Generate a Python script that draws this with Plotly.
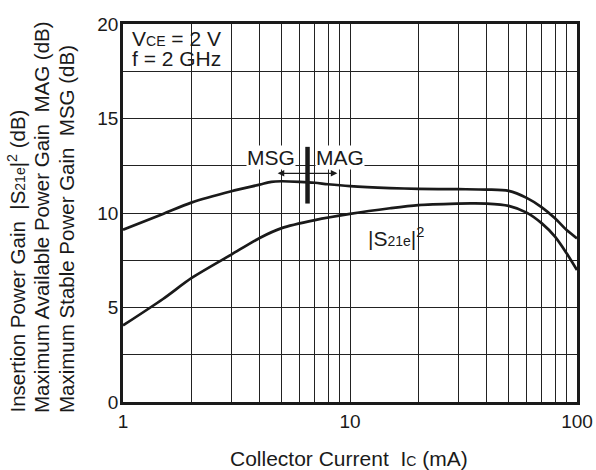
import math
import plotly.graph_objects as go

# ---- data ----
ic_gmax = [1, 1.5, 2, 3, 4, 4.5, 5, 6, 7, 8, 10, 15, 20, 30, 40, 50, 60, 70, 80, 90, 100]
gain_max = [9.12, 9.95, 10.55, 11.15, 11.5, 11.65, 11.68, 11.65, 11.6, 11.52, 11.42, 11.32, 11.28, 11.26, 11.24, 11.17, 10.8, 10.3, 9.72, 9.1, 8.66]

ic_s21 = [1, 1.5, 2, 3, 4, 5, 7, 10, 15, 20, 30, 34, 40, 50, 60, 70, 80, 90, 100]
s21 = [4.05, 5.45, 6.55, 7.8, 8.68, 9.2, 9.62, 9.95, 10.25, 10.42, 10.5, 10.51, 10.5, 10.38, 10.02, 9.45, 8.75, 7.87, 6.98]

# MSG / MAG boundary marker
bar_x = [6.5, 6.5]
bar_y = [10.5, 13.5]

x_grid = [1, 2, 3, 4, 5, 6, 7, 8, 9, 10, 20, 30, 40, 50, 60, 70, 80, 90, 100]
x_labels = {1: "1", 10: "10", 100: "100"}
y_grid = [0, 2.5, 5, 7.5, 10, 12.5, 15, 17.5, 20]
y_labels = {0: "0", 5: "5", 10: "10", 15: "15", 20: "20"}

SMALL = "<span style='font-size:14px'>%s</span>"
S21E = "|S" + SMALL % "21e" + "|<sup>2</sup>"

y_title_lines = [
    "Insertion Power Gain  " + S21E + " (dB)",
    "Maximum Available Power Gain  MAG (dB)",
    "Maximum Stable Power Gain  MSG (dB)",
]

FONT = "Liberation Sans, Arial, Helvetica, sans-serif"
INK = "#1a1a1a"
ML, MR, MT, MB, W, H = 123, 19, 24, 68, 596, 470
PW, PH = W - ML - MR, H - MT - MB


def px_x(p):
    return (p - ML) / PW


def px_y(p):
    return (H - MB - p) / PH


fig = go.Figure()
fig.add_trace(go.Scatter(x=ic_gmax, y=gain_max, mode="lines",
                         line=dict(color=INK, width=2.7, shape="spline", smoothing=0.8),
                         showlegend=False, hoverinfo="skip"))
fig.add_trace(go.Scatter(x=ic_s21, y=s21, mode="lines",
                         line=dict(color=INK, width=2.7, shape="spline", smoothing=0.8),
                         showlegend=False, hoverinfo="skip"))
fig.add_trace(go.Scatter(x=bar_x, y=bar_y, mode="lines",
                         line=dict(color=INK, width=4.5),
                         showlegend=False, hoverinfo="skip"))

L = math.log10

# condition box in upper-left
fig.add_shape(type="rect", xref="x", yref="y", x0=L(1), x1=L(3), y0=17.5, y1=20,
              fillcolor="white", line=dict(color="#222", width=1.4), layer="between")
fig.add_annotation(xref="paper", yref="paper", x=px_x(130), y=px_y(38), xanchor="left",
                   yanchor="middle", text="V" + SMALL % "CE" + " = 2 V", showarrow=False,
                   font=dict(family=FONT, size=21, color=INK))
fig.add_annotation(xref="paper", yref="paper", x=px_x(130), y=px_y(59), xanchor="left",
                   yanchor="middle", text="f = 2 GHz", showarrow=False,
                   font=dict(family=FONT, size=21, color=INK))

# arrows either side of the boundary marker
fig.add_annotation(xref="x", yref="y", axref="x", ayref="y",
                   x=L(4.8), y=12.1, ax=L(bar_x[0]), ay=12.1, text="", showarrow=True,
                   arrowhead=2, arrowsize=1.1, arrowwidth=1.2, arrowcolor=INK)
fig.add_annotation(xref="x", yref="y", axref="x", ayref="y",
                   x=L(8.8), y=12.1, ax=L(bar_x[0]), ay=12.1, text="", showarrow=True,
                   arrowhead=2, arrowsize=1.1, arrowwidth=1.2, arrowcolor=INK)
fig.add_annotation(xref="paper", yref="paper", x=px_x(271), y=px_y(157), text="MSG",
                   xanchor="center", yanchor="middle",
                   showarrow=False, bgcolor="white", borderpad=0,
                   font=dict(family=FONT, size=21, color=INK))
fig.add_annotation(xref="paper", yref="paper", x=px_x(339.5), y=px_y(157), text="MAG",
                   xanchor="center", yanchor="middle",
                   showarrow=False, bgcolor="white", borderpad=0,
                   font=dict(family=FONT, size=21, color=INK))
fig.add_annotation(xref="paper", yref="paper", x=px_x(396), y=px_y(237),
                   xanchor="center", yanchor="middle",
                   text=S21E, showarrow=False,
                   font=dict(family=FONT, size=21, color=INK))

# Y axis title (three rotated lines)
for cx, line in zip([16, 41, 66], y_title_lines):
    fig.add_annotation(xref="paper", yref="paper", x=px_x(cx), y=px_y(415),
                       xanchor="center", yanchor="bottom", textangle=-90,
                       showarrow=False, text=line,
                       font=dict(family=FONT, size=20.5, color=INK))

# X axis title
fig.add_annotation(xref="paper", yref="paper", x=px_x(349), y=px_y(458),
                   xanchor="center", yanchor="middle", showarrow=False,
                   text="Collector Current  I" + SMALL % "C" + " (mA)",
                   font=dict(family=FONT, size=21, color=INK))

fig.update_layout(
    width=W, height=H,
    margin=dict(l=ML, r=MR, t=MT, b=MB, autoexpand=False),
    paper_bgcolor="white", plot_bgcolor="white",
    font=dict(family=FONT, size=19, color=INK),
    xaxis=dict(type="log", range=[0, 2], tickvals=x_grid,
               ticktext=[x_labels.get(v, "") for v in x_grid],
               showgrid=True, gridcolor="#222", gridwidth=1.4,
               showline=True, linecolor=INK, linewidth=2.6, mirror=True,
               ticks="", zeroline=False, ticklabelstandoff=0, automargin=False,
               tickfont=dict(size=19)),
    yaxis=dict(range=[0, 20], tickvals=y_grid,
               ticktext=[y_labels.get(v, "") for v in y_grid],
               showgrid=True, gridcolor="#222", gridwidth=1.4,
               showline=True, linecolor=INK, linewidth=2.6, mirror=True,
               ticks="", zeroline=False, ticklabelstandoff=-2, automargin=False,
               tickfont=dict(size=19)),
)

fig.write_html("out.html")
